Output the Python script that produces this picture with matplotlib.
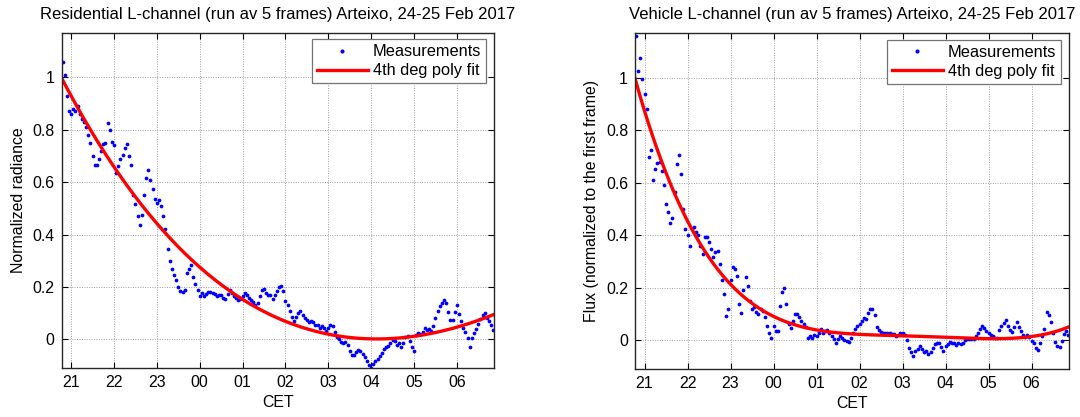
import numpy as np
import matplotlib
matplotlib.use('Agg')
import matplotlib.pyplot as plt

plt.rcParams['font.family'] = ['Liberation Sans', 'DejaVu Sans']

# Frames every 3 minutes from 20:48 (24 Feb) to 06:51 (25 Feb), running average of 5 frames
start_hour = 20.8
frame_step = 0.05

# Residential L-channel, normalized radiance (one row per clock hour)
residential = [
    1.06, 1.01, 0.93, 0.87,
    0.86, 0.88, 0.87, 0.89, 0.86, 0.84, 0.83, 0.81, 0.78, 0.75, 0.70, 0.665, 0.665, 0.69, 0.72, 0.745, 0.75, 0.825, 0.80, 0.755,
    0.74, 0.634, 0.66, 0.69, 0.705, 0.73, 0.745, 0.70, 0.665, 0.55, 0.515, 0.47, 0.435, 0.475, 0.55, 0.615, 0.645, 0.61, 0.575, 0.535,
    0.52, 0.53, 0.51, 0.47, 0.42, 0.345, 0.30, 0.27, 0.245, 0.225, 0.20, 0.185, 0.18, 0.19, 0.255, 0.27, 0.285, 0.24, 0.21, 0.19,
    0.166, 0.177, 0.166, 0.175, 0.18, 0.18, 0.177, 0.172, 0.166, 0.17, 0.168, 0.16, 0.153, 0.175, 0.19, 0.177, 0.166, 0.16, 0.15, 0.155,
    0.164, 0.177, 0.17, 0.158, 0.152, 0.141, 0.132, 0.14, 0.165, 0.187, 0.192, 0.177, 0.17, 0.17, 0.155, 0.168, 0.185, 0.20, 0.205, 0.185,
    0.145, 0.13, 0.11, 0.085, 0.069, 0.085, 0.10, 0.107, 0.094, 0.08, 0.076, 0.066, 0.07, 0.066, 0.056, 0.056, 0.043, 0.05, 0.045, 0.033,
    0.043, 0.055, 0.05, 0.03, 0.011, 0.003, -0.008, -0.012, -0.01, -0.02, -0.045, -0.06, -0.06, -0.048, -0.04, -0.045, -0.055, -0.068, -0.084, -0.097,
    -0.11, -0.092, -0.082, -0.075, -0.065, -0.05, -0.038, -0.028, -0.025, -0.013, -0.002, -0.005, -0.02, -0.012, -0.027, -0.015, 0.008, 0.015, -0.005, -0.03,
    -0.045, 0.018, 0.024, 0.022, 0.028, 0.042, 0.037, 0.038, 0.032, 0.05, 0.082, 0.11, 0.126, 0.139, 0.152, 0.14, 0.105, 0.075, 0.075, 0.105,
    0.132, 0.098, 0.07, 0.045, 0.03, 0.005, -0.027, 0.005, 0.024, 0.04, 0.06, 0.078, 0.095, 0.10, 0.082, 0.07, 0.056, 0.035,
]

# Vehicle L-channel, flux normalized to the first frame
vehicle = [
    1.16, 1.025, 1.075, 0.995,
    0.94, 0.88, 0.70, 0.725, 0.612, 0.653, 0.676, 0.678, 0.647, 0.59, 0.52, 0.49, 0.446, 0.465, 0.564, 0.672, 0.705, 0.632, 0.50, 0.424,
    0.40, 0.36, 0.424, 0.433, 0.414, 0.40, 0.36, 0.33, 0.393, 0.395, 0.374, 0.35, 0.316, 0.335, 0.342, 0.29, 0.23, 0.177, 0.094, 0.12,
    0.23, 0.278, 0.272, 0.244, 0.139, 0.103, 0.192, 0.243, 0.208, 0.15, 0.12, 0.128, 0.107, 0.10, 0.12, 0.113, 0.09, 0.056, 0.03, 0.011,
    0.056, 0.037, 0.035, 0.13, 0.183, 0.20, 0.14, 0.062, 0.046, 0.075, 0.10, 0.10, 0.09, 0.075, 0.062, 0.05, 0.01, 0.018, 0.011, 0.022,
    0.018, 0.03, 0.043, 0.03, 0.037, 0.04, 0.027, 0.018, 0.005, -0.008, 0.005, 0.018, 0.009, 0.0, -0.001, -0.006, 0.008, 0.028, 0.043, 0.053,
    0.062, 0.075, 0.085, 0.08, 0.105, 0.12, 0.12, 0.095, 0.052, 0.038, 0.033, 0.03, 0.027, 0.029, 0.027, 0.024, 0.026, 0.018, 0.022, 0.03,
    0.027, 0.022, 0.0, -0.028, -0.046, -0.06, -0.042, -0.033, -0.02, -0.033, -0.046, -0.042, -0.05, -0.043, -0.027, -0.014, -0.011, -0.01, -0.025, -0.04,
    -0.022, -0.012, -0.005, -0.011, -0.01, -0.017, -0.008, -0.014, -0.01, 0.001, 0.005, 0.007, 0.005, 0.005, 0.016, 0.03, 0.042, 0.054, 0.048, 0.037,
    0.03, 0.02, 0.018, 0.01, 0.008, 0.04, 0.056, 0.065, 0.077, 0.055, 0.04, 0.032, 0.05, 0.069, 0.05, 0.035, 0.02, 0.014, 0.02, 0.012,
    -0.001, -0.01, -0.03, -0.035, -0.008, 0.015, 0.045, 0.107, 0.095, 0.07, 0.03, -0.005, -0.02, -0.025, -0.001, 0.024, 0.035, 0.02,
]

tick_hours = [21, 22, 23, 24, 25, 26, 27, 28, 29, 30]
tick_labels = ['21', '22', '23', '00', '01', '02', '03', '04', '05', '06']
ytick_values = [0, 0.2, 0.4, 0.6, 0.8, 1]
ytick_labels = ['0', '0.2', '0.4', '0.6', '0.8', '1']

titles = ['Residential L-channel (run av 5 frames) Arteixo, 24-25 Feb 2017',
          'Vehicle L-channel (run av 5 frames) Arteixo, 24-25 Feb 2017']
ylabels = ['Normalized radiance', 'Flux (normalized to the first frame)']

hours = start_hour + frame_step * np.arange(len(residential))

fig = plt.figure(figsize=(10.8, 4.17), dpi=100)
ax1 = fig.add_axes([0.0571, 0.1168, 0.4006, 0.8048])
ax2 = fig.add_axes([0.588, 0.1144, 0.402, 0.806])

for ax, series, title, ylab in zip([ax1, ax2], [residential, vehicle], titles, ylabels):
    y = np.array(series)
    # 4th degree polynomial fit (time shifted to the first frame)
    coefs = np.polyfit(hours - start_hour, y, 4)
    xfit = np.linspace(20.78, 30.88, 300)
    yfit = np.polyval(coefs, xfit - start_hour)

    ax.plot(hours, y, 'o', color='#0000ff', markersize=2.7, markeredgewidth=0, label='Measurements')
    ax.plot(xfit, yfit, '-', color='#ff0000', linewidth=2.4, label='4th deg poly fit')

    ax.set_xlim(20.78, 30.875)
    ax.set_ylim(-0.11, 1.17)
    ax.set_xticks(tick_hours)
    ax.set_xticklabels(tick_labels)
    ax.set_yticks(ytick_values)
    ax.set_yticklabels(ytick_labels)
    ax.grid(True, linestyle=(0, (1, 1.5)), color='0.62', linewidth=0.7)
    ax.set_axisbelow(True)
    ax.tick_params(direction='in', length=4, width=0.8, top=True, right=True,
                   labelsize=11.4, pad=5)
    for sp in ax.spines.values():
        sp.set_linewidth(1.0)
        sp.set_color('#262626')

    ax.set_title(title, fontsize=12, pad=10)
    ax.set_xlabel('CET', fontsize=11.4, labelpad=3.5)
    ax.set_ylabel(ylab, fontsize=11.4, labelpad=5)

    leg = ax.legend(loc='upper right', bbox_to_anchor=(0.981, 0.980), borderaxespad=0,
                    fontsize=11.8, handlelength=3.1, handletextpad=0.3, borderpad=0.3,
                    labelspacing=0.25, fancybox=False, framealpha=1, markerscale=1.1)
    leg.get_frame().set_edgecolor('0.45')
    leg.get_frame().set_linewidth(0.9)

fig.savefig('out.png', dpi=100)
